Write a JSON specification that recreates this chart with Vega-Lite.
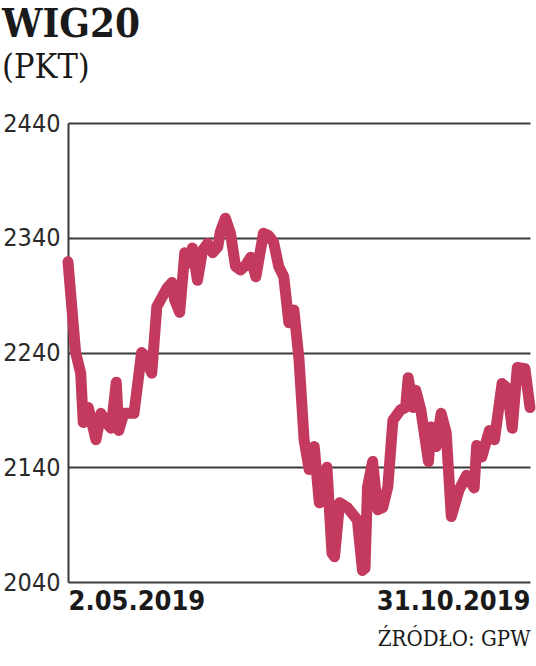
{
  "$schema": "https://vega.github.io/schema/vega-lite/v6.json",
  "width": 462,
  "height": 459,
  "autosize": "none",
  "padding": {"left": 68, "top": 123, "right": 6, "bottom": 84},
  "background": "white",
  "title": {
    "text": "WIG20",
    "subtitle": "(PKT)",
    "anchor": "start",
    "frame": "group",
    "dx": -66,
    "offset": 26,
    "font": "DejaVu Serif Condensed",
    "fontSize": 40,
    "fontWeight": "bold",
    "color": "#1a1a1a",
    "subtitleFont": "DejaVu Serif Condensed",
    "subtitleFontSize": 34,
    "subtitleColor": "#1a1a1a",
    "subtitlePadding": 6
  },
  "data": {
    "values": [
      {"date": "2019-05-02", "value": 2319},
      {"date": "2019-05-05", "value": 2240},
      {"date": "2019-05-07", "value": 2222},
      {"date": "2019-05-08", "value": 2179},
      {"date": "2019-05-10", "value": 2192},
      {"date": "2019-05-13", "value": 2164},
      {"date": "2019-05-15", "value": 2187},
      {"date": "2019-05-17", "value": 2179},
      {"date": "2019-05-19", "value": 2174},
      {"date": "2019-05-21", "value": 2214},
      {"date": "2019-05-22", "value": 2172},
      {"date": "2019-05-24", "value": 2187},
      {"date": "2019-05-28", "value": 2187},
      {"date": "2019-05-31", "value": 2240},
      {"date": "2019-06-01", "value": 2238},
      {"date": "2019-06-04", "value": 2222},
      {"date": "2019-06-06", "value": 2280},
      {"date": "2019-06-08", "value": 2288},
      {"date": "2019-06-10", "value": 2296},
      {"date": "2019-06-12", "value": 2301},
      {"date": "2019-06-13", "value": 2286},
      {"date": "2019-06-15", "value": 2275},
      {"date": "2019-06-17", "value": 2327},
      {"date": "2019-06-19", "value": 2318},
      {"date": "2019-06-20", "value": 2331},
      {"date": "2019-06-22", "value": 2303},
      {"date": "2019-06-24", "value": 2329},
      {"date": "2019-06-26", "value": 2335},
      {"date": "2019-06-28", "value": 2327},
      {"date": "2019-06-30", "value": 2332},
      {"date": "2019-07-01", "value": 2345},
      {"date": "2019-07-03", "value": 2357},
      {"date": "2019-07-05", "value": 2344},
      {"date": "2019-07-07", "value": 2315},
      {"date": "2019-07-09", "value": 2312},
      {"date": "2019-07-11", "value": 2316},
      {"date": "2019-07-13", "value": 2323},
      {"date": "2019-07-15", "value": 2306},
      {"date": "2019-07-18", "value": 2344},
      {"date": "2019-07-20", "value": 2342},
      {"date": "2019-07-22", "value": 2336},
      {"date": "2019-07-24", "value": 2315},
      {"date": "2019-07-26", "value": 2306},
      {"date": "2019-07-28", "value": 2266},
      {"date": "2019-07-30", "value": 2277},
      {"date": "2019-08-01", "value": 2234},
      {"date": "2019-08-03", "value": 2164},
      {"date": "2019-08-05", "value": 2138},
      {"date": "2019-08-07", "value": 2158},
      {"date": "2019-08-09", "value": 2109},
      {"date": "2019-08-12", "value": 2140},
      {"date": "2019-08-14", "value": 2065},
      {"date": "2019-08-15", "value": 2062},
      {"date": "2019-08-17", "value": 2109},
      {"date": "2019-08-20", "value": 2105},
      {"date": "2019-08-24", "value": 2094},
      {"date": "2019-08-26", "value": 2050},
      {"date": "2019-08-27", "value": 2052},
      {"date": "2019-08-28", "value": 2123},
      {"date": "2019-08-30", "value": 2145},
      {"date": "2019-09-01", "value": 2103},
      {"date": "2019-09-03", "value": 2105},
      {"date": "2019-09-05", "value": 2123},
      {"date": "2019-09-07", "value": 2181},
      {"date": "2019-09-10", "value": 2190},
      {"date": "2019-09-12", "value": 2192},
      {"date": "2019-09-13", "value": 2218},
      {"date": "2019-09-15", "value": 2192},
      {"date": "2019-09-16", "value": 2207},
      {"date": "2019-09-18", "value": 2190},
      {"date": "2019-09-21", "value": 2145},
      {"date": "2019-09-22", "value": 2175},
      {"date": "2019-09-24", "value": 2158},
      {"date": "2019-09-26", "value": 2187},
      {"date": "2019-09-28", "value": 2170},
      {"date": "2019-09-30", "value": 2097},
      {"date": "2019-10-03", "value": 2120},
      {"date": "2019-10-06", "value": 2133},
      {"date": "2019-10-09", "value": 2122},
      {"date": "2019-10-10", "value": 2159},
      {"date": "2019-10-12", "value": 2149},
      {"date": "2019-10-15", "value": 2172},
      {"date": "2019-10-17", "value": 2164},
      {"date": "2019-10-20", "value": 2213},
      {"date": "2019-10-22", "value": 2209},
      {"date": "2019-10-24", "value": 2174},
      {"date": "2019-10-26", "value": 2227},
      {"date": "2019-10-29", "value": 2226},
      {"date": "2019-10-31", "value": 2192}
    ]
  },
  "mark": {
    "type": "line",
    "color": "#c43a5e",
    "strokeWidth": 11,
    "strokeCap": "round",
    "strokeJoin": "round",
    "clip": false
  },
  "encoding": {
    "x": {
      "field": "date",
      "type": "temporal",
      "scale": {"domain": ["2019-05-02", "2019-10-31"]},
      "axis": {
        "values": ["2019-05-02", "2019-10-31"],
        "format": "%-d.%m.%Y",
        "labelFlush": true,
        "labelFont": "DejaVu Sans Condensed",
        "labelFontWeight": "bold",
        "labelFontSize": 27,
        "labelColor": "#1a1a1a",
        "labelPadding": 6,
        "ticks": false,
        "domain": false,
        "grid": false,
        "title": "ŹRÓDŁO: GPW",
        "titleAnchor": "end",
        "titleFont": "DejaVu Serif Condensed",
        "titleFontSize": 22,
        "titleFontWeight": "normal",
        "titleColor": "#1a1a1a",
        "titlePadding": 14
      }
    },
    "y": {
      "field": "value",
      "type": "quantitative",
      "scale": {"domain": [2040, 2440], "nice": false, "zero": false},
      "axis": {
        "values": [2040, 2140, 2240, 2340, 2440],
        "format": "d",
        "title": null,
        "grid": true,
        "gridColor": "#3a3a3a",
        "gridWidth": 2,
        "gridOpacity": 1,
        "domain": true,
        "domainColor": "#3a3a3a",
        "domainWidth": 2,
        "ticks": false,
        "labelPadding": 8,
        "labelFont": "DejaVu Sans Condensed",
        "labelFontSize": 25,
        "labelColor": "#2a2a2a",
        "labelFontWeight": 300
      }
    }
  },
  "config": {"view": {"stroke": null}}
}
